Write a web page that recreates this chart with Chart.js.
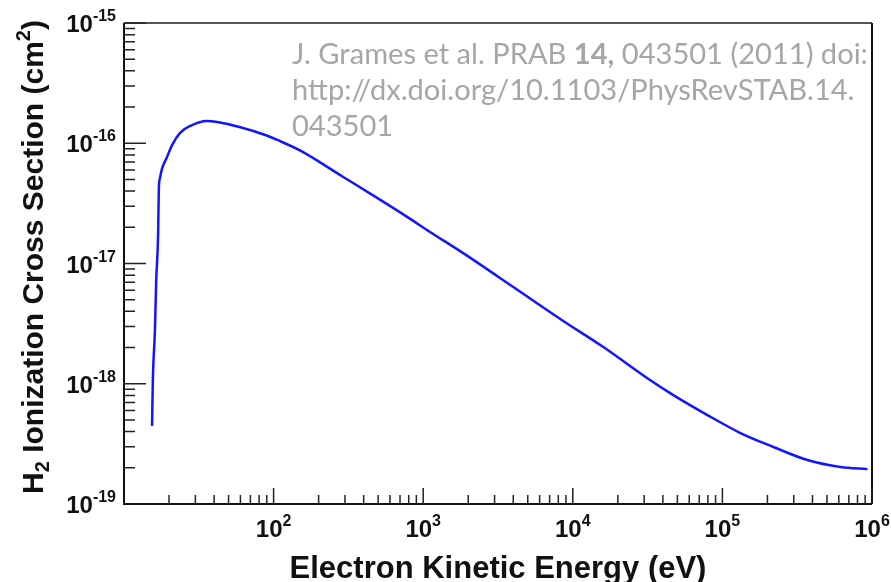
<!DOCTYPE html>
<html>
<head>
<meta charset="utf-8">
<script src="https://cdn.jsdelivr.net/npm/chart.js@4.4.1/dist/chart.umd.min.js"></script>
<style>
  html, body { margin: 0; padding: 0; background: #fff; }
  canvas { display: block; }
</style>
</head>
<body>
<canvas id="chart" width="891" height="582"></canvas>
<script>
// H2 ionization cross section vs electron energy
const energyEv = [15.4, 15.6, 16.1, 16.4, 16.9, 17.1, 17.4, 18.0, 19.4, 21.0, 23.7, 27.6, 36, 42, 60, 90, 105, 150,
  292, 492, 781, 1110, 1850, 4000, 8630, 16000, 33000, 47000, 79400, 132000, 219000, 370000, 615000, 933000];
const crossSection = [4.45e-19, 1.12e-18, 2.8e-18, 6.9e-18, 1.73e-17, 4.25e-17, 5.14e-17, 6.2e-17, 7.7e-17, 9.7e-17,
  1.22e-16, 1.39e-16, 1.53e-16, 1.50e-16, 1.36e-16, 1.16e-16, 1.07e-16, 8.71e-17,
  5.24e-17, 3.51e-17, 2.44e-17, 1.83e-17, 1.22e-17, 6.38e-18, 3.33e-18, 2.02e-18, 1.07e-18, 8.05e-19,
  5.49e-19, 3.89e-19, 2.98e-19, 2.32e-19, 2.03e-19, 1.95e-19];

// axis decades and which of them get a "10^n" label
const xDecades = [1, 2, 3, 4, 5, 6];
const xLabelPowers = [2, 3, 4, 5, 6];
const yDecades = [-19, -18, -17, -16, -15];
const yLabelPowers = [-19, -18, -17, -16, -15];

const xTitle = 'Electron Kinetic Energy (eV)';
const citeLines = [
  [['J. Grames et al. PRAB ', false], ['14,', true], [' 043501 (2011) doi:', false]],
  [['http://dx.doi.org/10.1103/PhysRevSTAB.14.', false]],
  [['043501', false]]
];

const points = energyEv.map((e, i) => ({ x: e, y: crossSection[i] }));

const AXIS_FONT = '"Liberation Sans", Arial, sans-serif';
const CITE_FONT = 'Lato, "Open Sans", sans-serif';

// "10" with a raised exponent
function drawPower(ctx, power, x, y, align) {
  const base = 'bold 24px ' + AXIS_FONT;
  const sup = 'bold 16px ' + AXIS_FONT;
  ctx.font = base;
  const wBase = ctx.measureText('10').width;
  ctx.font = sup;
  const wSup = ctx.measureText(String(power)).width;
  let left = x;
  if (align === 'center') left = x - (wBase + wSup) / 2;
  if (align === 'right') left = x - (wBase + wSup);
  ctx.textAlign = 'left';
  ctx.textBaseline = 'alphabetic';
  ctx.font = base;
  ctx.fillText('10', left, y);
  ctx.font = sup;
  ctx.fillText(String(power), left + wBase, y - 11);
}

const axesPlugin = {
  id: 'axesPlugin',
  afterDraw(chart) {
    const ctx = chart.ctx;
    const area = chart.chartArea;
    const xs = chart.scales.x;
    const ys = chart.scales.y;
    ctx.save();

    // frame
    ctx.lineWidth = 2;
    ctx.strokeStyle = '#555';
    ctx.beginPath();
    ctx.moveTo(area.left, area.top);
    ctx.lineTo(area.right, area.top);
    ctx.stroke();
    ctx.strokeStyle = '#111';
    ctx.beginPath();
    ctx.moveTo(area.right, area.top);
    ctx.lineTo(area.right, area.bottom);
    ctx.moveTo(area.left, area.top);
    ctx.lineTo(area.left, area.bottom);
    ctx.lineTo(area.right, area.bottom);
    ctx.stroke();

    // inward ticks
    ctx.lineWidth = 1.5;
    ctx.strokeStyle = '#222';
    ctx.beginPath();
    xDecades.forEach(p => {
      for (let m = 1; m <= 9; m++) {
        const v = m * Math.pow(10, p);
        if (v <= 10 || v > 1e6) continue;
        const px = xs.getPixelForValue(v);
        const len = m === 1 ? 16 : 9;
        ctx.moveTo(px, area.bottom);
        ctx.lineTo(px, area.bottom - len);
      }
    });
    yDecades.forEach(p => {
      for (let m = 1; m <= 9; m++) {
        const v = m * Math.pow(10, p);
        if (v <= 1e-19 || v >= 1e-15 * 1.0001) continue;
        const py = ys.getPixelForValue(v);
        const len = m === 1 ? 22 : 11;
        ctx.moveTo(area.left, py);
        ctx.lineTo(area.left + len, py);
      }
    });
    ctx.stroke();

    // tick labels
    ctx.fillStyle = '#111';
    xLabelPowers.forEach(p => {
      drawPower(ctx, p, xs.getPixelForValue(Math.pow(10, p)), area.bottom + 33, 'center');
    });
    yLabelPowers.forEach(p => {
      drawPower(ctx, p, area.left - 8, ys.getPixelForValue(Math.pow(10, p)) + 9, 'right');
    });

    // x title
    ctx.font = 'bold 31px ' + AXIS_FONT;
    ctx.textAlign = 'center';
    ctx.textBaseline = 'alphabetic';
    ctx.fillText(xTitle, (area.left + area.right) / 2, 578);

    // y title with H2 subscript and cm2 superscript
    const big = 'bold 30px ' + AXIS_FONT;
    const small = 'bold 20px ' + AXIS_FONT;
    const runs = [['H', big, 0], ['2', small, 6], [' Ionization Cross Section (cm', big, 0], ['2', small, -13], [')', big, 0]];
    let total = 0;
    runs.forEach(r => { ctx.font = r[1]; total += ctx.measureText(r[0]).width; });
    ctx.translate(43, 257);
    ctx.rotate(-Math.PI / 2);
    ctx.textAlign = 'left';
    let cx = -total / 2;
    runs.forEach(r => {
      ctx.font = r[1];
      ctx.fillText(r[0], cx, r[2]);
      cx += ctx.measureText(r[0]).width;
    });
    ctx.setTransform(1, 0, 0, 1, 0, 0);

    // citation text, sized so the first line spans the box width
    ctx.fillStyle = '#a6a6a6';
    let w100 = 0;
    citeLines[0].forEach(s => {
      ctx.font = (s[1] ? 'bold ' : '') + '100px ' + CITE_FONT;
      w100 += ctx.measureText(s[0]).width;
    });
    const size = 100 * 576 / w100;
    citeLines.forEach((line, i) => {
      let lx = 292;
      const ly = 64 + i * 36;
      line.forEach(s => {
        ctx.font = (s[1] ? 'bold ' : '') + size.toFixed(2) + 'px ' + CITE_FONT;
        ctx.fillText(s[0], lx, ly);
        lx += ctx.measureText(s[0]).width;
      });
    });
    ctx.restore();
  }
};

new Chart(document.getElementById('chart'), {
  type: 'line',
  data: {
    datasets: [{
      data: points,
      borderColor: '#1414ff',
      borderWidth: 2.5,
      pointRadius: 0,
      cubicInterpolationMode: 'monotone',
      fill: false
    }]
  },
  options: {
    responsive: false,
    animation: false,
    devicePixelRatio: 1,
    layout: { padding: { left: 124, right: 19, top: 23, bottom: 78 } },
    plugins: { legend: { display: false }, tooltip: { enabled: false } },
    scales: {
      x: { type: 'logarithmic', min: 10, max: 1e6, display: false },
      y: { type: 'logarithmic', min: 1e-19, max: 1e-15, display: false }
    }
  },
  plugins: [axesPlugin]
});
</script>
</body>
</html>
